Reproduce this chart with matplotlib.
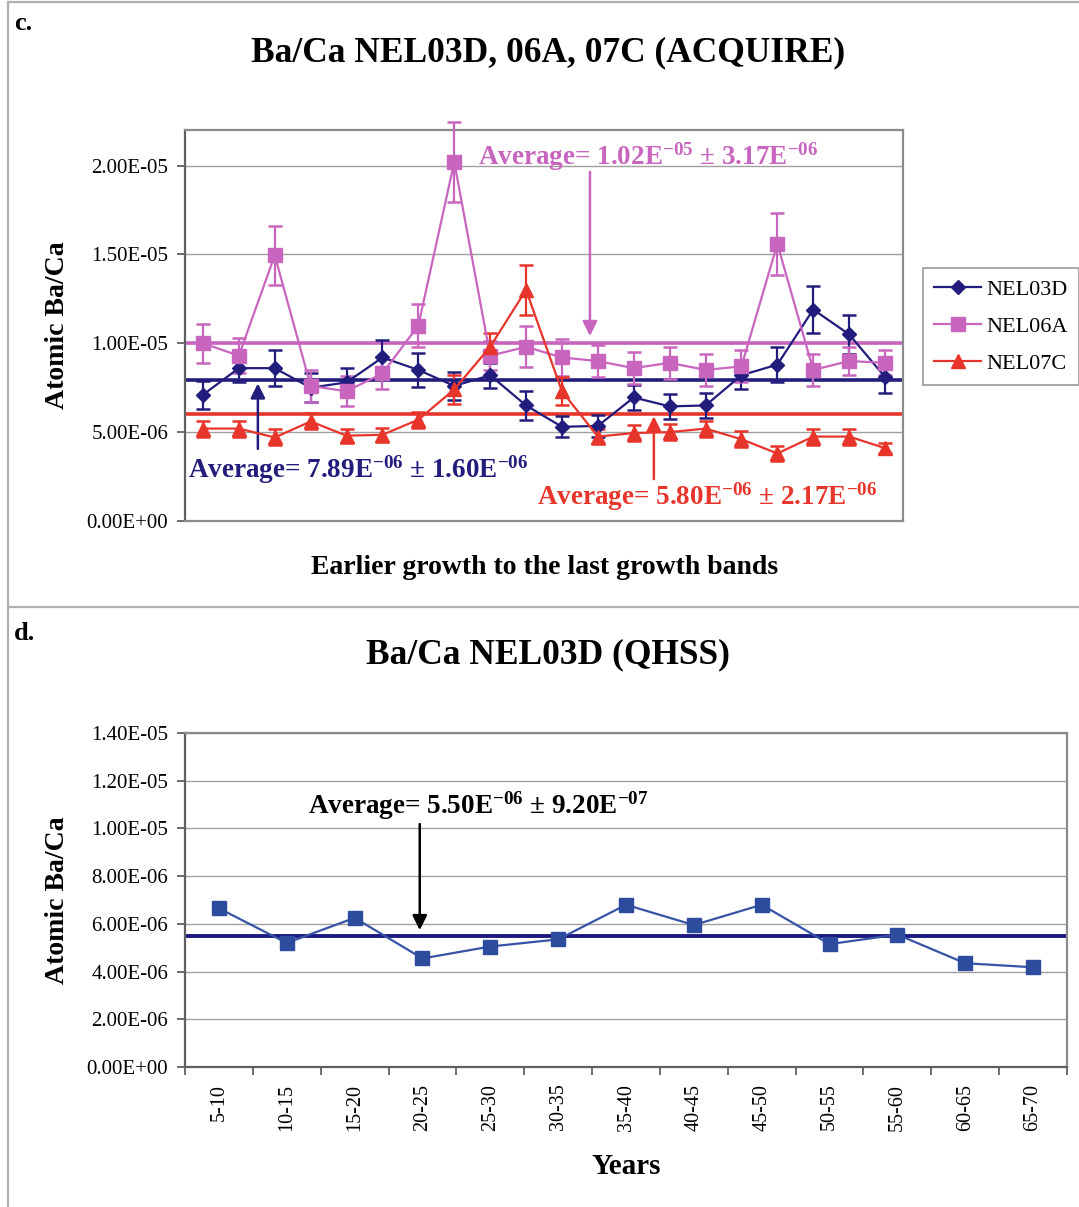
import numpy as np
import matplotlib
matplotlib.use("Agg")
import matplotlib.pyplot as plt
from matplotlib.lines import Line2D

plt.rcParams['font.family'] = ['Liberation Serif', 'DejaVu Serif']
plt.rcParams['mathtext.default'] = 'regular'

# panel c data (values in 1e-6)
bands = np.arange(20)
nel03d = [7.1, 8.6, 8.6, 7.5, 7.8, 9.2, 8.5, 7.6, 8.2, 6.5,
          5.3, 5.35, 6.95, 6.45, 6.5, 8.2, 8.8, 11.9, 10.5, 8.1]
nel03d_err = [0.8, 0.8, 1.0, 0.8, 0.8, 1.0, 0.95, 0.8, 0.7, 0.8,
              0.6, 0.6, 0.7, 0.7, 0.7, 0.8, 1.0, 1.35, 1.1, 0.9]
nel06a = [10.0, 9.3, 14.95, 7.6, 7.3, 8.3, 11.0, 20.2, 9.3, 9.8,
          9.2, 9.0, 8.6, 8.9, 8.5, 8.7, 15.6, 8.5, 9.0, 8.9]
nel06a_err = [1.1, 1.0, 1.65, 0.9, 0.85, 0.9, 1.2, 2.25, 0.8, 1.15,
              1.05, 0.9, 0.9, 0.9, 0.9, 0.9, 1.75, 0.9, 0.8, 0.7]
nel07c = [5.2, 5.2, 4.7, 5.6, 4.8, 4.85, 5.7, 7.4, 9.8, 13.0,
          7.3, 4.75, 4.95, 5.0, 5.2, 4.6, 3.8, 4.75, 4.75, 4.1]
nel07c_err = [0.45, 0.45, 0.45, 0.45, 0.4, 0.4, 0.45, 0.8, 0.8, 1.4,
              0.8, 0.4, 0.45, 0.45, 0.45, 0.45, 0.4, 0.45, 0.45, 0.3]
avg_c = {'NEL03D': 7.95, 'NEL06A': 10.0, 'NEL07C': 6.0}

# panel d data (values in 1e-6)
years = ['5-10', '10-15', '15-20', '20-25', '25-30', '30-35', '35-40',
         '40-45', '45-50', '50-55', '55-60', '60-65', '65-70']
qhss = [6.65, 5.2, 6.25, 4.55, 5.05, 5.35, 6.8, 5.95, 6.8, 5.15, 5.55, 4.35, 4.18]
avg_d = 5.5

W, H = 1079, 1207
fig = plt.figure(figsize=(W / 100, H / 100), dpi=100)


def px(x0, y0, x1, y1):
    return [x0 / W, 1 - y1 / H, (x1 - x0) / W, (y1 - y0) / H]


def fxy(x, y):
    return x / W, 1 - y / H


navy = '#221d7c'
pink = '#c865bf'
red = '#e8352b'
grey = '#8c8c8c'
e = 1e-6

# frame lines of the figure panels
for xs, ys in [([7.5, 7.5], [2, H]), ([7.5, W], [2, 2]), ([7.5, W], [607, 607])]:
    fig.add_artist(Line2D([x / W for x in xs], [1 - y / H for y in ys],
                          color='#b0b0b0', lw=1.6))

# ---------------- panel c ----------------
ax = fig.add_axes(px(185, 130, 903, 521))
ax.set_xlim(-0.5, 19.5)
ax.set_ylim(0, 2.2e-5)
ax.set_yticks(np.arange(0, 2.01e-5, 5e-6))
ax.set_yticklabels(['%.2E' % v for v in np.arange(0, 2.01e-5, 5e-6)], fontsize=15)
ax.set_xticks([])
ax.yaxis.grid(True, color='#a0a0a0', lw=1)
ax.set_axisbelow(True)
ax.tick_params(axis='y', length=6, color='#555555', width=1.2, pad=6)
for s in ax.spines.values():
    s.set_color(grey)
    s.set_linewidth(1.6)
ax.spines['left'].set_color('#606060')

series = [('NEL03D', nel03d, nel03d_err, navy, 'D', 7.5),
          ('NEL06A', nel06a, nel06a_err, pink, 's', 10),
          ('NEL07C', nel07c, nel07c_err, red, '^', 10)]
for name, vals, err, col, mk, ms in series:
    ax.axhline(avg_c[name] * e, color=col, lw=2.6, zorder=2)
handles = []
for name, vals, err, col, mk, ms in series:
    eb = ax.errorbar(bands, np.array(vals) * e, yerr=np.array(err) * e, color=col,
                     marker=mk, ms=ms, lw=1.6, capsize=5, capthick=1.8,
                     elinewidth=1.6, zorder=3)
    for art in eb.lines[1] + eb.lines[2]:
        art.set_clip_on(False)
    handles.append(Line2D([], [], color=col, marker=mk, ms=ms, lw=1.6, label=name))

leg = ax.legend(handles=handles, loc='upper left', bbox_to_anchor=(1.028, 0.647),
                borderaxespad=0, fontsize=16, frameon=True, fancybox=False,
                edgecolor='#808080', handlelength=2.1, borderpad=0.5,
                labelspacing=0.75, handletextpad=0.25)
leg.get_frame().set_linewidth(1.2)

ann = dict(fontsize=19.5, fontweight='bold', ha='center', va='center')
ax.text(12.4, 20.5 * e, 'Average= 1.02E$^{-05}$ ± 3.17E$^{-06}$', color=pink,
        clip_on=False, **ann)
ax.annotate('', xy=(10.78, 10.25 * e), xytext=(10.78, 19.8 * e),
            arrowprops=dict(arrowstyle='-|>', color=pink, lw=1.8, mutation_scale=22))
ax.text(4.32, 2.87 * e, 'Average= 7.89E$^{-06}$ ± 1.60E$^{-06}$', color=navy, **ann)
ax.annotate('', xy=(1.53, 7.9 * e), xytext=(1.53, 3.9 * e),
            arrowprops=dict(arrowstyle='-|>', color=navy, lw=1.8, mutation_scale=22))
ax.text(14.04, 1.35 * e, 'Average= 5.80E$^{-06}$ ± 2.17E$^{-06}$', color=red, **ann)
ax.annotate('', xy=(12.56, 6.05 * e), xytext=(12.56, 2.2 * e),
            arrowprops=dict(arrowstyle='-|>', color=red, lw=1.8, mutation_scale=22))

ax.set_ylabel('Atomic Ba/Ca', fontsize=20, fontweight='bold', labelpad=12)
fig.text(*fxy(545, 568), 'Earlier growth to the last growth bands', fontsize=20,
         fontweight='bold', ha='center', va='center')
fig.text(*fxy(548, 53), 'Ba/Ca NEL03D, 06A, 07C (ACQUIRE)', fontsize=25.5,
         fontweight='bold', ha='center', va='center')
fig.text(*fxy(14, 24), 'c.', fontsize=19, fontweight='bold', ha='left', va='center')

# ---------------- panel d ----------------
bx = fig.add_axes(px(185, 733, 1067, 1067))
xd = np.arange(len(years))
bx.set_xlim(-0.5, len(years) - 0.5)
bx.set_ylim(0, 1.4e-5)
yt = np.arange(0, 1.41e-5, 2e-6)
bx.set_yticks(yt)
bx.set_yticklabels(['%.2E' % v for v in yt], fontsize=15)
bx.set_xticks(xd)
bx.set_xticklabels(years, rotation=90, fontsize=14.5)
bx.set_xticks(np.arange(-0.5, len(years)), minor=True)
bx.tick_params(axis='x', which='major', length=0, pad=12)
bx.tick_params(axis='x', which='minor', length=6, color='#555555', width=1.2)
bx.tick_params(axis='y', length=6, color='#555555', width=1.2, pad=6)
bx.yaxis.grid(True, color='#a0a0a0', lw=1)
bx.set_axisbelow(True)
for s in bx.spines.values():
    s.set_color(grey)
    s.set_linewidth(1.6)
bx.spines['left'].set_color('#606060')
bx.spines['bottom'].set_color('#606060')

bx.axhline(avg_d * e, color='#1c1a80', lw=2.8, zorder=2)
bx.plot(xd, np.array(qhss) * e, color='#3753a5', marker='s', ms=10, lw=1.6,
        mfc='#2e4c9e', mec='#2e4c9e', zorder=3)
bx.text(3.82, 10.94 * e, 'Average= 5.50E$^{-06}$ ± 9.20E$^{-07}$', color='black', **ann)
bx.annotate('', xy=(2.96, 5.62 * e), xytext=(2.96, 10.3 * e),
            arrowprops=dict(arrowstyle='-|>', color='black', lw=1.8, mutation_scale=22))

bx.set_ylabel('Atomic Ba/Ca', fontsize=20, fontweight='bold', labelpad=12)
bx.set_xlabel('Years', fontsize=21, fontweight='bold', labelpad=16)
fig.text(*fxy(548, 655), 'Ba/Ca NEL03D (QHSS)', fontsize=25.5,
         fontweight='bold', ha='center', va='center')
fig.text(*fxy(14, 634), 'd.', fontsize=19, fontweight='bold', ha='left', va='center')

fig.savefig('out.png', dpi=100)
